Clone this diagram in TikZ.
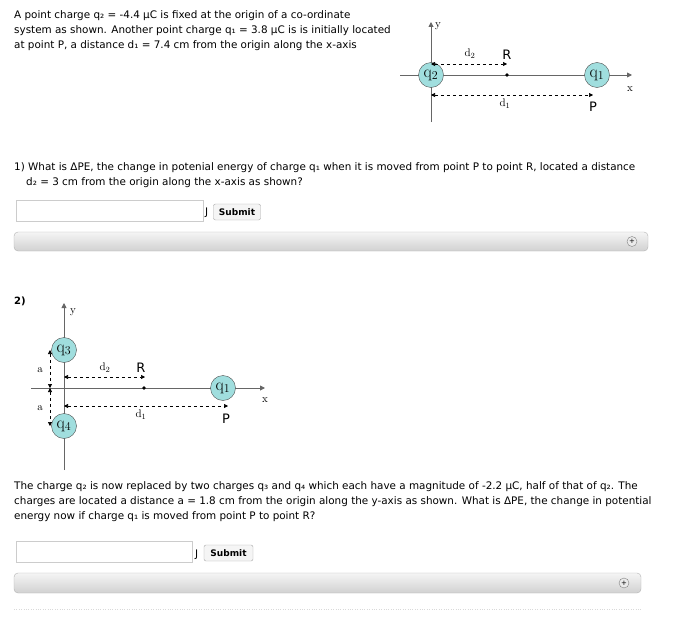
\documentclass[tikz,border=0pt]{standalone}
\usepackage{fontspec}
\setmainfont{DejaVu Sans}
\newfontfamily\serifq{Latin Modern Roman}
\usetikzlibrary{arrows.meta}
\definecolor{qfill}{RGB}{160,222,222}
\tikzset{
 txt/.style={anchor=base west,inner sep=0,font=\fontsize{10.4}{12}\selectfont},
 charge/.style={circle,draw=black!70,fill=qfill,minimum size=25pt,inner sep=0,font=\serifq\fontsize{17}{17}\selectfont},
 axis/.style={draw=black!60,line width=0.9pt,-{Triangle[length=5pt,width=5pt]}},
 dim/.style={dashed,line width=0.6pt,{Triangle[length=4pt,width=4pt]}-{Triangle[length=4pt,width=4pt]}},
 lab/.style={inner sep=0,font=\serifq\fontsize{11}{11}\selectfont},
 big/.style={inner sep=0,font=\fontsize{13}{13}\selectfont},
 inbox/.style={draw=black!20,fill=white},
 btn/.style={draw=black!35,fill=black!4,rounded corners=2pt,font=\bfseries\fontsize{9}{9}\selectfont,inner sep=0},
 bar/.style={draw=black!30,rounded corners=4pt,top color=black!4,bottom color=black!18}
}
\begin{document}
\begin{tikzpicture}[x=1pt,y=-1pt]
\useasboundingbox (0,0) rectangle (683,618);
% text part 1
\node[txt] (t1) at (14,19) {A point charge q₂ = -4.4 μC is fixed at the origin of a co-ordinate};
\node[txt] (t2) at (14,34) {system as shown. Another point charge q₁ = 3.8 μC is is initially located};
\node[txt] (t3) at (14,49) {at point P, a distance d₁ = 7.4 cm from the origin along the x-axis};
% diagram 1
\coordinate (ya1) at (431,122); \coordinate (yb1) at (431,22);
\coordinate (xa1) at (400,75); \coordinate (xb1) at (632,75);
\draw[axis] (ya1) -- (yb1);
\draw[axis] (xa1) -- (xb1);
\node[charge] (q2) at (431,75) {q$_2$};
\node[charge] (q1a) at (597,75) {q$_1$};
\fill (507,75) circle (1.8pt);
\coordinate (d2s) at (431,64); \coordinate (d2e) at (507,64);
\coordinate (d1s) at (431,95); \coordinate (d1e) at (593,95);
\draw[dim] (d2s) -- (d2e);
\draw[dim] (d1s) -- (d1e);
\node[lab] (ly1) at (438,26) {y};
\node[lab] (lx1) at (630,89) {x};
\node[lab] (ld21) at (470,54) {d$_2$};
\node[lab] (ld11) at (505,104) {d$_1$};
\node[big] (R1) at (507,55) {R};
\node[big] (P1) at (593,107) {P};
% question 1
\node[txt] (t4) at (14,170) {1) What is ΔPE, the change in potenial energy of charge q₁ when it is moved from point P to point R, located a distance};
\node[txt] (t5) at (26,185) {d₂ = 3 cm from the origin along the x-axis as shown?};
\draw[inbox] (16,200) rectangle (203,221);
\node[txt] (J1) at (205,215) {J};
\node[btn,minimum width=47pt,minimum height=16pt] (s1) at (237,212) {Submit};
\draw[bar] (14,232) rectangle (648,251);
\draw[black!50,fill=black!8] (632,241.5) circle (5pt);
\node[inner sep=0,font=\fontsize{7}{7}\selectfont] (p1) at (632,241.5) {+};
% part 2
\node[txt,font=\bfseries\fontsize{10}{10}\selectfont] (two) at (14,304) {2)};
\coordinate (ya2) at (64,470); \coordinate (yb2) at (64,303);
\coordinate (xa2) at (31,388); \coordinate (xb2) at (265,388);
\draw[axis] (ya2) -- (yb2);
\draw[axis] (xa2) -- (xb2);
\node[charge] (q3) at (64,350) {q$_3$};
\node[charge] (q4) at (64,426) {q$_4$};
\node[charge] (q1b) at (223,388) {q$_1$};
\fill (144,388) circle (1.8pt);
\coordinate (e2s) at (64,377); \coordinate (e2e) at (145,377);
\coordinate (e1s) at (64,406); \coordinate (e1e) at (228,406);
\draw[dim] (e2s) -- (e2e);
\draw[dim] (e1s) -- (e1e);
\coordinate (a1) at (50,350); \coordinate (a0) at (50,388); \coordinate (a2) at (50,426);
\draw[dim] (a1) -- (a0);
\draw[dim] (a0) -- (a2);
\node[lab] (la1) at (40,370) {a};
\node[lab] (la2) at (40,408) {a};
\node[lab] (ly2) at (73,312) {y};
\node[lab] (lx2) at (265,400) {x};
\node[lab] (ld22) at (105,368) {d$_2$};
\node[lab] (ld12) at (141,415) {d$_1$};
\node[big] (R2) at (141,368) {R};
\node[big] (P2) at (226,419) {P};
\node[txt] (t6) at (14,489) {The charge q₂ is now replaced by two charges q₃ and q₄ which each have a magnitude of -2.2 μC, half of that of q₂. The};
\node[txt] (t7) at (14,504) {charges are located a distance a = 1.8 cm from the origin along the y-axis as shown. What is ΔPE, the change in potential};
\node[txt] (t8) at (14,519) {energy now if charge q₁ is moved from point P to point R?};
\draw[inbox] (16,541) rectangle (192,562);
\node[txt] (J2) at (195,557) {J};
\node[btn,minimum width=49pt,minimum height=16pt] (s2) at (228.5,553) {Submit};
\draw[bar] (14,573) rectangle (641,593);
\draw[black!50,fill=black!8] (624,583) circle (5pt);
\node[inner sep=0,font=\fontsize{7}{7}\selectfont] (p2) at (624,583) {+};
\draw[black!15,dotted] (14,609) -- (641,609);
\end{tikzpicture}
\end{document}
